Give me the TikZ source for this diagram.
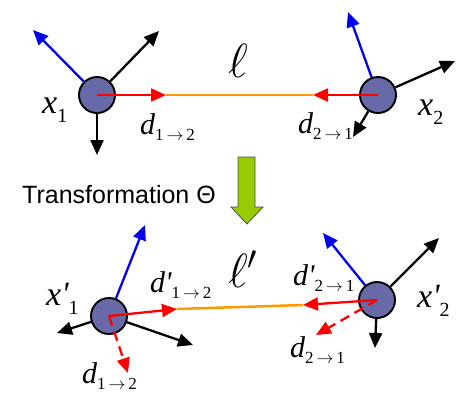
\RequirePackage{fix-cm}
\documentclass[tikz,border=0pt]{standalone}
\usepackage{fontspec}
\setsansfont{Liberation Sans}
\newfontfamily\tnr{Liberation Serif}
\usetikzlibrary{arrows.meta}
\definecolor{SiteFill}{RGB}{104,106,168}
\definecolor{DirBlue}{RGB}{0,0,235}
\definecolor{DirRed}{RGB}{255,0,0}
\definecolor{LinkOrange}{RGB}{255,153,0}
\definecolor{StepGreen}{RGB}{153,204,0}
% point label x, direction label d
\newcommand{\xlab}[2]{{\tnr\fontsize{34}{34}\selectfont\itshape x#1\raisebox{-9pt}{\upshape\fontsize{20}{20}\selectfont #2}}}
\newcommand{\dlab}[3]{{\tnr\fontsize{30}{30}\selectfont\itshape d#1\raisebox{-6pt}{\upshape\fontsize{17}{17}\selectfont #2\,$\to$\,#3}}}

\begin{document}
\begin{tikzpicture}[x=1pt,y=-1pt,
  site/.style={circle,draw=black,line width=1.9pt,fill=SiteFill,minimum size=36pt,inner sep=0pt},
  dir/.style={line width=2.3pt,-{Triangle[length=15pt,width=13pt]}},
  lab/.style={anchor=base west,inner sep=0pt},
  ell/.style={anchor=base west,font=\fontsize{48}{50}\selectfont,inner sep=0pt}]
\useasboundingbox (0,0) rectangle (456,392);
% before
\node[site] (xa) at (97,95) {};
\node[site] (xb) at (378,95) {};
\coordinate (xaB) at (33,30);
\coordinate (xaN) at (159,31);
\coordinate (xaS) at (97,155);
\coordinate (xaR) at (166,95);
\coordinate (xbB) at (348,12);
\coordinate (xbN) at (455,61);
\coordinate (xbS) at (353,137);
\coordinate (xbR) at (313,95);
\draw[dir,DirBlue] (xa) -- (xaB);
\draw[dir] (xa) -- (xaN);
\draw[dir] (xa) -- (xaS);
\draw[dir,DirBlue] (xb) -- (xbB);
\draw[dir] (xb) -- (xbN);
\draw[dir] (xb) -- (xbS);
\draw[LinkOrange,line width=2.5pt] (xaR) -- (xbR);
\draw[dir,DirRed] (xa.center) -- (xaR);
\draw[dir,DirRed] (xb.center) -- (xbR);
\node[lab] (la) at (42,113) {\xlab{}{1}};
\node[lab] (da) at (140,134) {\dlab{}{1}{2}};
\node[ell] (ln) at (228,77) {$\ell$};
\node[lab] (lb) at (418,115) {\xlab{}{2}};
\node[lab] (db) at (298,133) {\dlab{}{2}{1}};
% transformation
\draw[draw=black!70,fill=StepGreen,line width=.8pt]
  (238,157) -- (255,157) -- (255,207) -- (263,207) -- (247,224) -- (231,207) -- (238,207) -- cycle;
\node[font=\sffamily\fontsize{25}{28}\selectfont,inner sep=0pt] (tr) at (119,195) {Transformation Θ};
% after
\node[site] (xc) at (109,316) {};
\node[site] (xd) at (377,300) {};
\coordinate (xcB) at (145,225);
\coordinate (xcW) at (57,333);
\coordinate (xcS) at (193,345);
\coordinate (xcR) at (177,309);
\coordinate (xcD) at (128,373);
\coordinate (xdB) at (323,233);
\coordinate (xdN) at (439,238);
\coordinate (xdS) at (375,348);
\coordinate (xdR) at (303,305);
\coordinate (xdD) at (316,335);
\draw[dir,DirBlue] (xc) -- (xcB);
\draw[dir] (xc) -- (xcW);
\draw[dir] (xc) -- (xcS);
\draw[dir,DirBlue] (xd) -- (xdB);
\draw[dir] (xd) -- (xdN);
\draw[dir] (xd) -- (xdS);
\draw[LinkOrange,line width=2.5pt] (xcR) -- (xdR);
\draw[dir,DirRed] (xc.center) -- (xcR);
\draw[dir,DirRed] (xd.center) -- (xdR);
\draw[dir,DirRed,dash pattern=on 10pt off 6pt] (xc.center) -- (xcD);
\draw[dir,DirRed,dash pattern=on 10pt off 6pt] (xd.center) -- (xdD);
\node[lab] (lc) at (46,305) {\xlab{'}{1}};
\node[lab] (dc) at (150,292) {\dlab{'}{1}{2}};
\node[lab] (ec) at (82,383) {\dlab{}{1}{2}};
\node[ell] (lm) at (228,287) {$\ell'$};
\node[lab] (dd) at (293,285) {\dlab{'}{2}{1}};
\node[lab] (ld) at (417,307) {\xlab{'}{2}};
\node[lab] (ed) at (290,357) {\dlab{}{2}{1}};
\end{tikzpicture}
\end{document}
